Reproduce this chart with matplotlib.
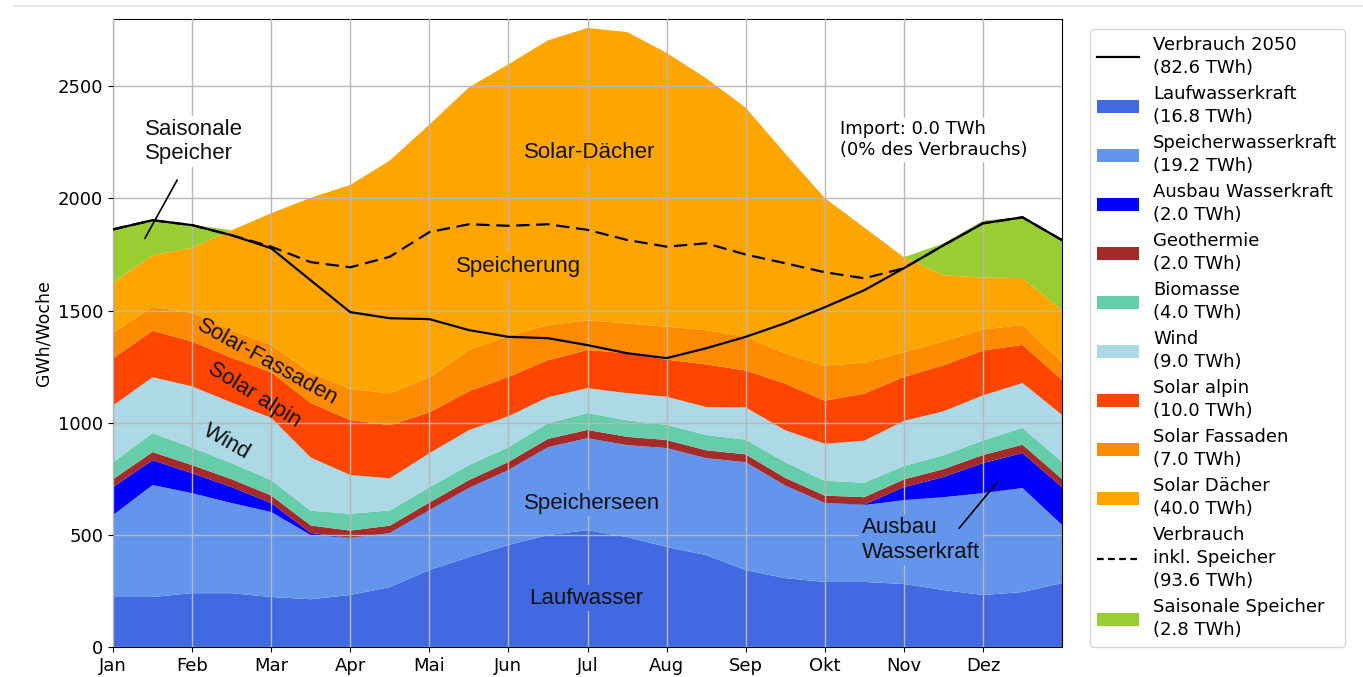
import numpy as np
import matplotlib
matplotlib.use("Agg")
import matplotlib.pyplot as plt
from matplotlib.patches import Patch
from matplotlib.lines import Line2D

months = ["Jan", "Feb", "Mar", "Apr", "Mai", "Jun", "Jul", "Aug", "Sep", "Okt", "Nov", "Dez"]

laufwasser = [223, 223, 240, 240, 223, 213, 232, 267, 343, 401, 455, 499, 521,
              490, 446, 410, 343, 307, 290, 290, 281, 254, 232, 245, 285]
speicherwasser = [365, 499, 446, 402, 379, 286, 254, 241, 267, 308, 334, 392, 410,
                  410, 441, 432, 481, 413, 352, 343, 374, 414, 454, 464, 259]
ausbau = [125, 111, 89, 71, 40, 10, 0, 0, 0, 0, 0, 0, 0,
          0, 0, 0, 0, 0, 0, 2, 58, 90, 134, 156, 169]
geothermie = [35, 36, 36, 35, 34, 33, 33, 33, 34, 35, 36, 37, 37,
              37, 36, 35, 35, 34, 33, 33, 34, 35, 36, 37, 36]
biomasse = [75, 85, 78, 72, 68, 66, 75, 68, 68, 67, 66, 70, 75,
            74, 68, 68, 66, 70, 66, 65, 60, 62, 65, 75, 76]
wind = [254, 249, 273, 270, 278, 237, 173, 143, 152, 156, 138, 116, 111,
        121, 125, 125, 143, 142, 165, 187, 201, 196, 201, 200, 210]
solar_alpin = [210, 207, 200, 200, 203, 243, 245, 237, 182, 173, 175, 165, 170,
               178, 165, 190, 165, 208, 192, 210, 196, 205, 200, 170, 156]
solar_fassaden = [115, 107, 128, 123, 121, 136, 139, 142, 156, 184, 183, 156, 133,
                  133, 147, 153, 150, 135, 156, 138, 111, 107, 94, 89, 80]
solar_daecher = [223, 230, 290, 445, 588, 779, 909, 1038, 1127, 1171, 1211, 1270, 1303,
                 1299, 1221, 1123, 1022, 891, 748, 602, 423, 295, 231, 209, 232]
saisonal = [240, 156, 103, 0, 0, 0, 0, 0, 0, 0, 0, 0, 0,
            0, 0, 0, 0, 0, 0, 0, 0, 141, 254, 272, 312]

verbrauch = [1862, 1903, 1881, 1836, 1778, 1635, 1493, 1466, 1462, 1413, 1383, 1377, 1346,
             1310, 1288, 1332, 1383, 1444, 1515, 1591, 1689, 1791, 1889, 1916, 1814]
verbrauch_speicher = [1862, 1903, 1881, 1836, 1785, 1716, 1693, 1740, 1850, 1885, 1878, 1885, 1860,
                      1815, 1785, 1800, 1750, 1711, 1671, 1644, 1689, 1791, 1889, 1916, 1814]

labels = ["Laufwasserkraft\n(16.8 TWh)", "Speicherwasserkraft\n(19.2 TWh)",
          "Ausbau Wasserkraft\n(2.0 TWh)", "Geothermie\n(2.0 TWh)", "Biomasse\n(4.0 TWh)",
          "Wind\n(9.0 TWh)", "Solar alpin\n(10.0 TWh)", "Solar Fassaden\n(7.0 TWh)",
          "Solar Dächer\n(40.0 TWh)", "Saisonale Speicher\n(2.8 TWh)"]
colors = ["royalblue", "cornflowerblue", "blue", "brown", "mediumaquamarine",
          "lightblue", "orangered", "darkorange", "orange", "yellowgreen"]

x = np.arange(len(laufwasser)) / 2  # Monate

fig = plt.figure(figsize=(13.63, 6.77), dpi=100)
ax = fig.add_axes([0.0829, 0.0443, 0.6963, 0.9276])

ax.stackplot(x, laufwasser, speicherwasser, ausbau, geothermie, biomasse, wind,
             solar_alpin, solar_fassaden, solar_daecher, saisonal,
             colors=colors, linewidth=0)
ax.plot(x, verbrauch, color="black", lw=1.6, zorder=3)
ax.plot(x, verbrauch_speicher, color="black", lw=1.6, dashes=(6, 3), zorder=3)

ax.set_xlim(0, 12)
ax.set_ylim(0, 2800)
ax.set_xticks(range(12))
ax.set_xticklabels(months)
ax.set_yticks(range(0, 2501, 500))
ax.tick_params(labelsize=13)
ax.set_ylabel("GWh/Woche", fontsize=12.5)
ax.grid(True, color="#b8b8b8", lw=1.0)
ax.set_axisbelow(False)

# Beschriftungen im Diagramm
arial = "Liberation Sans"
def label(xx, yy, s, bg, **kw):
    bbox = dict(facecolor=bg, edgecolor="none", pad=2) if bg else None
    ax.text(xx, yy, s, fontsize=16, family=arial, color="#111111",
            bbox=bbox, zorder=4, **kw)

label(0.405, 2255, "Saisonale\nSpeicher", "white", ha="left", va="center")
ax.plot([0.81, 0.405], [2081, 1823], color="black", lw=1.2, zorder=4)
label(6.03, 2206, "Solar-Dächer", "orange", ha="center", va="center")
label(5.13, 1698, "Speicherung", "orange", ha="center", va="center")
label(1.95, 1270, "Solar-Fassaden", None, ha="center", va="center", rotation=-29,
      rotation_mode="anchor")
label(1.78, 1125, "Solar alpin", None, ha="center", va="center", rotation=-32,
      rotation_mode="anchor")
label(1.44, 914, "Wind", None, ha="center", va="center", rotation=-30,
      rotation_mode="anchor")
label(6.06, 642, "Speicherseen", "cornflowerblue", ha="center", va="center")
label(5.98, 218, "Laufwasser", "royalblue", ha="center", va="center")
label(9.47, 477, "Ausbau\nWasserkraft", "cornflowerblue", ha="left", va="center")
ax.plot([10.70, 11.18], [530, 735], color="black", lw=1.2, zorder=4)

ax.text(9.19, 2262, "Import: 0.0 TWh\n(0% des Verbrauchs)", fontsize=13,
        ha="left", va="center", zorder=4,
        bbox=dict(facecolor="white", edgecolor="none", pad=2))

# Legende
handles = [Line2D([], [], color="black", lw=1.6)]
handles += [Patch(facecolor=c) for c in colors[:9]]
handles += [Line2D([], [], color="black", lw=1.6, dashes=(3, 2)),
            Patch(facecolor=colors[9])]
leg_labels = ["Verbrauch 2050\n(82.6 TWh)"] + labels[:9] + \
    ["Verbrauch\ninkl. Speicher\n(93.6 TWh)", labels[9]]
leg = fig.legend(handles, leg_labels, loc="upper left",
                 bbox_to_anchor=(1090 / 1363, 1 - 29 / 677), borderaxespad=0,
                 fontsize=13, handlelength=2.3, labelspacing=0.45)
for t in leg.get_texts():
    t.set_linespacing(1.35)

fig.add_artist(Line2D([0.01, 1.0], [1 - 6 / 677, 1 - 6 / 677], color="#e6e6e6", lw=1.2))

fig.savefig("out.png", dpi=100)
